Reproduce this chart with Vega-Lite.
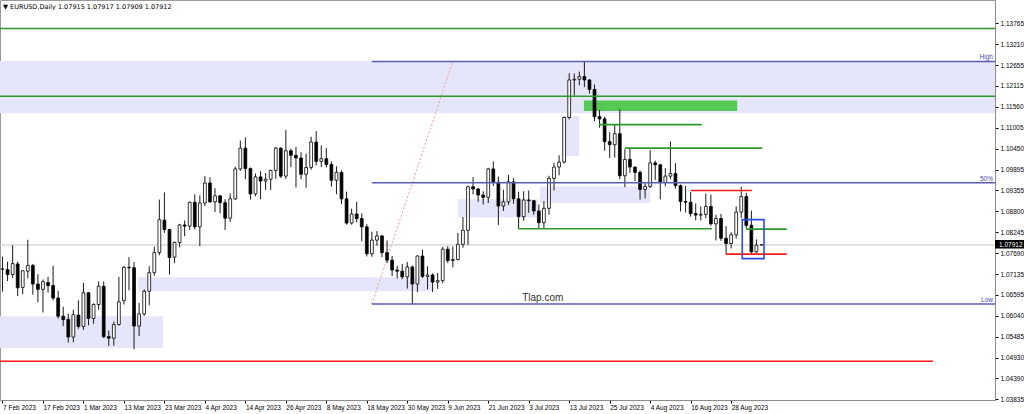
{
  "$schema": "https://vega.github.io/schema/vega-lite/v6.json",
  "width": 995,
  "height": 400,
  "autosize": {"type": "none"},
  "padding": {"left": 0, "top": 0, "right": 29, "bottom": 14},
  "background": "#ffffff",
  "config": {
    "view": {"stroke": "#9a9a9a", "strokeWidth": 1},
    "font": "Liberation Sans",
    "scale": {"continuousPadding": 0},
    "axisX": {"orient": "bottom", "labelAlign": "left", "labelBaseline": "top", "labelPadding": 1, "labelFontSize": 6.5, "labelColor": "#000000", "labelFlush": false, "labelOverlap": false, "tickSize": 3, "tickColor": "#000000", "domainColor": "#8c8c8c", "grid": false, "title": null},
    "axisY": {"orient": "right", "labelFontSize": 6.5, "labelColor": "#000000", "labelPadding": 2, "labelOverlap": false, "labelFlush": false, "tickSize": 3, "tickColor": "#000000", "domainColor": "#8c8c8c", "grid": false, "title": null}
  },
  "datasets": {
    "candles": [
      {"i":0,"o":1.0727,"h":1.0760,"l":1.0668,"c":1.0728},
      {"i":1,"o":1.0726,"h":1.0747,"l":1.0696,"c":1.0713},
      {"i":2,"o":1.0713,"h":1.0790,"l":1.0704,"c":1.0742},
      {"i":3,"o":1.0741,"h":1.0747,"l":1.0656,"c":1.0678},
      {"i":4,"o":1.0679,"h":1.0724,"l":1.0661,"c":1.0723},
      {"i":5,"o":1.0722,"h":1.0805,"l":1.0703,"c":1.0737},
      {"i":6,"o":1.0737,"h":1.0741,"l":1.0660,"c":1.0688},
      {"i":7,"o":1.0688,"h":1.0714,"l":1.0640,"c":1.0674},
      {"i":8,"o":1.0674,"h":1.0700,"l":1.0613,"c":1.0694},
      {"i":9,"o":1.0692,"h":1.0707,"l":1.0665,"c":1.0684},
      {"i":10,"o":1.0684,"h":1.0736,"l":1.0645,"c":1.0651},
      {"i":11,"o":1.0651,"h":1.0670,"l":1.0597,"c":1.0603},
      {"i":12,"o":1.0603,"h":1.0628,"l":1.0577,"c":1.0594},
      {"i":13,"o":1.0595,"h":1.0610,"l":1.0533,"c":1.0548},
      {"i":14,"o":1.0548,"h":1.0620,"l":1.0534,"c":1.0607},
      {"i":15,"o":1.0606,"h":1.0645,"l":1.0570,"c":1.0576},
      {"i":16,"o":1.0576,"h":1.0691,"l":1.0567,"c":1.0665},
      {"i":17,"o":1.0665,"h":1.0667,"l":1.0579,"c":1.0597},
      {"i":18,"o":1.0597,"h":1.0637,"l":1.0583,"c":1.0634},
      {"i":19,"o":1.0634,"h":1.0695,"l":1.0620,"c":1.0682},
      {"i":20,"o":1.0682,"h":1.0695,"l":1.0545,"c":1.0549},
      {"i":21,"o":1.0549,"h":1.0565,"l":1.0524,"c":1.0545},
      {"i":22,"o":1.0545,"h":1.0589,"l":1.0525,"c":1.0581},
      {"i":23,"o":1.0581,"h":1.0707,"l":1.0578,"c":1.0641},
      {"i":24,"o":1.0644,"h":1.0736,"l":1.0634,"c":1.0732},
      {"i":25,"o":1.0732,"h":1.0759,"l":1.0671,"c":1.0731},
      {"i":26,"o":1.0731,"h":1.0746,"l":1.0516,"c":1.0577},
      {"i":27,"o":1.0577,"h":1.0638,"l":1.0551,"c":1.0609},
      {"i":28,"o":1.0609,"h":1.0674,"l":1.0604,"c":1.0669},
      {"i":29,"o":1.0669,"h":1.0735,"l":1.0632,"c":1.0718},
      {"i":30,"o":1.0718,"h":1.0787,"l":1.0710,"c":1.0771},
      {"i":31,"o":1.0771,"h":1.0911,"l":1.0764,"c":1.0858},
      {"i":32,"o":1.0857,"h":1.0930,"l":1.0823,"c":1.0832},
      {"i":33,"o":1.0832,"h":1.0834,"l":1.0713,"c":1.0758},
      {"i":34,"o":1.0759,"h":1.0800,"l":1.0744,"c":1.0798},
      {"i":35,"o":1.0798,"h":1.0847,"l":1.0785,"c":1.0844},
      {"i":36,"o":1.0844,"h":1.0856,"l":1.0814,"c":1.0841},
      {"i":37,"o":1.0841,"h":1.0906,"l":1.0831,"c":1.0904},
      {"i":38,"o":1.0904,"h":1.0925,"l":1.0832,"c":1.0839},
      {"i":39,"o":1.0839,"h":1.0922,"l":1.0788,"c":1.0902},
      {"i":40,"o":1.0902,"h":1.0973,"l":1.0894,"c":1.0955},
      {"i":41,"o":1.0955,"h":1.0970,"l":1.0902,"c":1.0905},
      {"i":42,"o":1.0905,"h":1.0941,"l":1.0878,"c":1.0921},
      {"i":43,"o":1.0921,"h":1.0922,"l":1.0875,"c":1.0903},
      {"i":44,"o":1.0903,"h":1.0912,"l":1.0831,"c":1.0862},
      {"i":45,"o":1.0862,"h":1.0927,"l":1.0852,"c":1.0913},
      {"i":46,"o":1.0913,"h":1.0998,"l":1.0910,"c":1.0992},
      {"i":47,"o":1.0992,"h":1.1067,"l":1.0987,"c":1.1047},
      {"i":48,"o":1.1047,"h":1.1075,"l":1.0965,"c":1.0993},
      {"i":49,"o":1.0993,"h":1.0996,"l":1.0911,"c":1.0926},
      {"i":50,"o":1.0926,"h":1.0980,"l":1.0920,"c":1.0971},
      {"i":51,"o":1.0971,"h":1.0986,"l":1.0912,"c":1.0960},
      {"i":52,"o":1.0960,"h":1.0981,"l":1.0937,"c":1.0965},
      {"i":53,"o":1.0965,"h":1.0990,"l":1.0936,"c":1.0988},
      {"i":54,"o":1.0988,"h":1.1050,"l":1.0966,"c":1.1047},
      {"i":55,"o":1.1047,"h":1.1049,"l":1.0968,"c":1.0973},
      {"i":56,"o":1.0973,"h":1.1095,"l":1.0965,"c":1.1040},
      {"i":57,"o":1.1040,"h":1.1045,"l":1.0997,"c":1.1028},
      {"i":58,"o":1.1028,"h":1.1050,"l":1.0943,"c":1.1021},
      {"i":59,"o":1.1021,"h":1.1036,"l":1.0965,"c":1.0978},
      {"i":60,"o":1.0978,"h":1.1032,"l":1.0942,"c":1.0996},
      {"i":61,"o":1.0996,"h":1.1077,"l":1.0990,"c":1.1063},
      {"i":62,"o":1.1063,"h":1.1092,"l":1.1001,"c":1.1012},
      {"i":63,"o":1.1012,"h":1.1054,"l":1.0997,"c":1.1019},
      {"i":64,"o":1.1019,"h":1.1047,"l":1.0996,"c":1.1004},
      {"i":65,"o":1.1004,"h":1.1012,"l":1.0945,"c":1.0962},
      {"i":66,"o":1.0962,"h":1.0999,"l":1.0925,"c":1.0983},
      {"i":67,"o":1.0983,"h":1.0988,"l":1.0899,"c":1.0913},
      {"i":68,"o":1.0913,"h":1.0932,"l":1.0845,"c":1.0849},
      {"i":69,"o":1.0849,"h":1.0887,"l":1.0845,"c":1.0873},
      {"i":70,"o":1.0873,"h":1.0905,"l":1.0851,"c":1.0861},
      {"i":71,"o":1.0861,"h":1.0875,"l":1.0801,"c":1.0839},
      {"i":72,"o":1.0839,"h":1.0846,"l":1.0761,"c":1.0768},
      {"i":73,"o":1.0768,"h":1.0826,"l":1.0760,"c":1.0804},
      {"i":74,"o":1.0804,"h":1.0828,"l":1.0789,"c":1.0815},
      {"i":75,"o":1.0815,"h":1.0818,"l":1.0759,"c":1.0771},
      {"i":76,"o":1.0771,"h":1.0803,"l":1.0743,"c":1.0751},
      {"i":77,"o":1.0751,"h":1.0762,"l":1.0709,"c":1.0725},
      {"i":78,"o":1.0725,"h":1.0736,"l":1.0703,"c":1.0722},
      {"i":79,"o":1.0722,"h":1.0741,"l":1.0701,"c":1.0707},
      {"i":80,"o":1.0707,"h":1.0746,"l":1.0676,"c":1.0733},
      {"i":81,"o":1.0733,"h":1.0737,"l":1.0635,"c":1.0688},
      {"i":82,"o":1.0688,"h":1.0764,"l":1.0667,"c":1.0762},
      {"i":83,"o":1.0762,"h":1.0779,"l":1.0704,"c":1.0708},
      {"i":84,"o":1.0708,"h":1.0735,"l":1.0674,"c":1.0712},
      {"i":85,"o":1.0712,"h":1.0716,"l":1.0667,"c":1.0693},
      {"i":86,"o":1.0693,"h":1.0717,"l":1.0675,"c":1.0697},
      {"i":87,"o":1.0697,"h":1.0786,"l":1.0690,"c":1.0780},
      {"i":88,"o":1.0780,"h":1.0788,"l":1.0743,"c":1.0750},
      {"i":89,"o":1.0750,"h":1.0787,"l":1.0732,"c":1.0753},
      {"i":90,"o":1.0753,"h":1.0823,"l":1.0750,"c":1.0793},
      {"i":91,"o":1.0793,"h":1.0865,"l":1.0784,"c":1.0830},
      {"i":92,"o":1.0830,"h":1.0948,"l":1.0791,"c":1.0945},
      {"i":93,"o":1.0945,"h":1.0970,"l":1.0925,"c":1.0939},
      {"i":94,"o":1.0939,"h":1.0942,"l":1.0905,"c":1.0923},
      {"i":95,"o":1.0923,"h":1.0933,"l":1.0898,"c":1.0917},
      {"i":96,"o":1.0917,"h":1.0995,"l":1.0902,"c":1.0992},
      {"i":97,"o":1.0992,"h":1.1012,"l":1.0947,"c":1.0957},
      {"i":98,"o":1.0957,"h":1.0972,"l":1.0844,"c":1.0894},
      {"i":99,"o":1.0894,"h":1.0937,"l":1.0881,"c":1.0905},
      {"i":100,"o":1.0905,"h":1.0976,"l":1.0897,"c":1.0958},
      {"i":101,"o":1.0958,"h":1.0968,"l":1.0900,"c":1.0913},
      {"i":102,"o":1.0913,"h":1.0932,"l":1.0835,"c":1.0866},
      {"i":103,"o":1.0866,"h":1.0933,"l":1.0855,"c":1.0910},
      {"i":104,"o":1.0910,"h":1.0935,"l":1.0876,"c":1.0908},
      {"i":105,"o":1.0908,"h":1.0910,"l":1.0871,"c":1.0881},
      {"i":106,"o":1.0881,"h":1.0898,"l":1.0833,"c":1.0850},
      {"i":107,"o":1.0850,"h":1.0907,"l":1.0834,"c":1.0888},
      {"i":108,"o":1.0888,"h":1.0974,"l":1.0871,"c":1.0967},
      {"i":109,"o":1.0967,"h":1.1008,"l":1.0935,"c":1.0997},
      {"i":110,"o":1.0997,"h":1.1028,"l":1.0975,"c":1.1010},
      {"i":111,"o":1.1010,"h":1.1130,"l":1.1006,"c":1.1128},
      {"i":112,"o":1.1128,"h":1.1245,"l":1.1123,"c":1.1227},
      {"i":113,"o":1.1227,"h":1.1244,"l":1.1186,"c":1.1229},
      {"i":114,"o":1.1229,"h":1.1249,"l":1.1213,"c":1.1236},
      {"i":115,"o":1.1236,"h":1.1276,"l":1.1208,"c":1.1227},
      {"i":116,"o":1.1227,"h":1.1229,"l":1.1191,"c":1.1202},
      {"i":117,"o":1.1202,"h":1.1215,"l":1.1118,"c":1.1130},
      {"i":118,"o":1.1130,"h":1.1148,"l":1.1101,"c":1.1124},
      {"i":119,"o":1.1124,"h":1.1130,"l":1.1040,"c":1.1064},
      {"i":120,"o":1.1064,"h":1.1089,"l":1.1021,"c":1.1056},
      {"i":121,"o":1.1056,"h":1.1110,"l":1.1022,"c":1.1085},
      {"i":122,"o":1.1085,"h":1.1149,"l":1.0965,"c":1.0974},
      {"i":123,"o":1.0974,"h":1.1044,"l":1.0944,"c":1.1017},
      {"i":124,"o":1.1017,"h":1.1046,"l":1.0982,"c":1.0997},
      {"i":125,"o":1.0997,"h":1.0998,"l":1.0960,"c":1.0983},
      {"i":126,"o":1.0983,"h":1.0988,"l":1.0911,"c":1.0938},
      {"i":127,"o":1.0938,"h":1.0954,"l":1.0914,"c":1.0946},
      {"i":128,"o":1.0946,"h":1.1042,"l":1.0942,"c":1.1008},
      {"i":129,"o":1.1008,"h":1.1014,"l":1.0963,"c":1.1003},
      {"i":130,"o":1.1003,"h":1.1005,"l":1.0912,"c":1.0956},
      {"i":131,"o":1.0956,"h":1.0994,"l":1.0946,"c":1.0973},
      {"i":132,"o":1.0973,"h":1.1065,"l":1.0965,"c":1.0980},
      {"i":133,"o":1.0980,"h":1.1007,"l":1.0940,"c":1.0948},
      {"i":134,"o":1.0948,"h":1.0951,"l":1.0880,"c":1.0906},
      {"i":135,"o":1.0906,"h":1.0947,"l":1.0877,"c":1.0904},
      {"i":136,"o":1.0904,"h":1.0931,"l":1.0866,"c":1.0874},
      {"i":137,"o":1.0874,"h":1.0901,"l":1.0856,"c":1.0870},
      {"i":138,"o":1.0870,"h":1.0893,"l":1.0856,"c":1.0872},
      {"i":139,"o":1.0872,"h":1.0927,"l":1.0862,"c":1.0893},
      {"i":140,"o":1.0893,"h":1.0924,"l":1.0842,"c":1.0847},
      {"i":141,"o":1.0847,"h":1.0871,"l":1.0803,"c":1.0861},
      {"i":142,"o":1.0861,"h":1.0873,"l":1.0802,"c":1.0809},
      {"i":143,"o":1.0809,"h":1.0841,"l":1.0766,"c":1.0795},
      {"i":144,"o":1.0795,"h":1.0825,"l":1.0782,"c":1.0818},
      {"i":145,"o":1.0818,"h":1.0893,"l":1.0808,"c":1.0878},
      {"i":146,"o":1.0878,"h":1.0945,"l":1.0862,"c":1.0919},
      {"i":147,"o":1.0919,"h":1.0929,"l":1.0835,"c":1.0843},
      {"i":148,"o":1.0843,"h":1.0882,"l":1.0769,"c":1.0773},
      {"i":149,"o":1.0773,"h":1.0806,"l":1.0770,"c":1.0791},
      {"i":150,"o":1.07915,"h":1.07917,"l":1.07909,"c":1.07912}
    ],
    "zones": [
      {"i1":-0.494,"i2":196.15,"p1":1.1277,"p2":1.1139,"kind":"lav"},
      {"i1":-0.494,"i2":31.7,"p1":1.0603,"p2":1.0519,"kind":"lav"},
      {"i1":26.8,"i2":84.9,"p1":1.0706,"p2":1.0669,"kind":"lav"},
      {"i1":90.0,"i2":105.8,"p1":1.0912,"p2":1.0864,"kind":"lav"},
      {"i1":106.2,"i2":128.0,"p1":1.0946,"p2":1.0902,"kind":"lav"},
      {"i1":110.5,"i2":114.0,"p1":1.1131,"p2":1.1026,"kind":"lav"},
      {"i1":114.9,"i2":145.2,"p1":1.1173,"p2":1.1145,"kind":"lime"}
    ],
    "diag": [
      {"i":73.0,"p":1.0635},
      {"i":89.0,"p":1.1276}
    ],
    "price": [
      {"i1":-0.494,"i2":196.15,"p":1.07912}
    ],
    "levels": [
      {"i1":-0.494,"i2":196.15,"p":1.1363,"kind":"green"},
      {"i1":-0.494,"i2":196.15,"p":1.1184,"kind":"green"},
      {"i1":117.9,"i2":138.2,"p":1.1109,"kind":"green"},
      {"i1":123.0,"i2":150.1,"p":1.1047,"kind":"green"},
      {"i1":101.9,"i2":140.2,"p":1.0834,"kind":"green"},
      {"i1":146.9,"i2":155.0,"p":1.0833,"kind":"green"},
      {"i1":136.0,"i2":148.1,"p":1.0935,"kind":"red"},
      {"i1":143.0,"i2":155.0,"p":1.0767,"kind":"red"},
      {"i1":-0.494,"i2":183.9,"p":1.0484,"kind":"red"},
      {"i1":73.0,"i2":196.15,"p":1.1276,"kind":"fib"},
      {"i1":73.0,"i2":196.15,"p":1.09555,"kind":"fib"},
      {"i1":73.0,"i2":196.15,"p":1.0635,"kind":"fib"}
    ],
    "boxes": [
      {"i1":146.2,"i2":150.5,"p1":1.0858,"p2":1.0755}
    ],
    "fibtext": [
      {"i":195.75,"p":1.1276,"t":"High"},
      {"i":195.75,"p":1.09555,"t":"50%"},
      {"i":195.75,"p":1.0635,"t":"Low"}
    ],
    "notes": [
      {"i":102.7,"p":1.0651,"t":"Tlap.com"}
    ],
    "header": [
      {"i":0.1,"p":1.1420,"t":"▼ EURUSD,Daily  1.07915 1.07917 1.07909 1.07912"}
    ],
    "tag": [
      {"i1":196.15,"i2":201.9,"p1":1.08043,"p2":1.07818,"p":1.07912,"t":"1.07912"}
    ]
  },
  "layer": [
    {
      "data": {"name": "zones"},
      "mark": {"type": "rect"},
      "encoding": {
        "x": {"field": "i1", "type": "quantitative", "title": null,
          "scale": {"domain": [-0.494, 196.15], "nice": false, "zero": false, "padding": 0},
          "axis": {"values": [0,8,16,24,32,40,48,56,64,72,80,88,96,104,112,120,128,136,144], "labelOverlap": false, "tickCount": 40,
            "labelExpr": "['7 Feb 2023','17 Feb 2023','1 Mar 2023','13 Mar 2023','23 Mar 2023','4 Apr 2023','14 Apr 2023','26 Apr 2023','8 May 2023','18 May 2023','30 May 2023','9 Jun 2023','21 Jun 2023','3 Jul 2023','13 Jul 2023','25 Jul 2023','4 Aug 2023','16 Aug 2023','28 Aug 2023'][round(datum.value/8)]"}},
        "x2": {"field": "i2"},
        "y": {"field": "p1", "type": "quantitative", "title": null,
          "scale": {"domain": [1.03817, 1.14382], "nice": false, "zero": false, "padding": 0},
          "axis": {"values": [1.13765,1.13210,1.12655,1.12115,1.11560,1.11005,1.10450,1.09895,1.09355,1.08800,1.08245,1.07690,1.07135,1.06595,1.06040,1.05485,1.04930,1.04390,1.03835], "format": ".5f", "labelOverlap": false, "tickCount": 40}},
        "y2": {"field": "p2"},
        "fill": {"field": "kind", "type": "nominal", "scale": {"domain": ["lav", "lime"], "range": ["#e6e6fa", "#55c855"]}, "legend": null}
      }
    },
    {
      "data": {"name": "price"},
      "mark": {"type": "rule", "stroke": "#c4c4c4", "strokeWidth": 1},
      "encoding": {
        "x": {"field": "i1", "type": "quantitative", "title": null, "scale": {"domain": [-0.494, 196.15], "nice": false, "zero": false, "padding": 0}},
        "x2": {"field": "i2"},
        "y": {"field": "p", "type": "quantitative", "title": null, "scale": {"domain": [1.03817, 1.14382], "nice": false, "zero": false, "padding": 0}}
      }
    },
    {
      "data": {"name": "diag"},
      "mark": {"type": "line", "stroke": "#f09a9a", "strokeWidth": 1, "strokeDash": [2, 2]},
      "encoding": {
        "x": {"field": "i", "type": "quantitative", "title": null, "scale": {"domain": [-0.494, 196.15], "nice": false, "zero": false, "padding": 0}},
        "y": {"field": "p", "type": "quantitative", "title": null, "scale": {"domain": [1.03817, 1.14382], "nice": false, "zero": false, "padding": 0}}
      }
    },
    {
      "data": {"name": "candles"},
      "mark": {"type": "rule", "stroke": "#1a1a1a", "strokeWidth": 1},
      "encoding": {
        "x": {"field": "i", "type": "quantitative", "title": null, "scale": {"domain": [-0.494, 196.15], "nice": false, "zero": false, "padding": 0}},
        "y": {"field": "l", "type": "quantitative", "title": null, "scale": {"domain": [1.03817, 1.14382], "nice": false, "zero": false, "padding": 0}},
        "y2": {"field": "h"}
      }
    },
    {
      "data": {"name": "candles"},
      "mark": {"type": "bar", "width": 2.8, "stroke": "#000000", "strokeWidth": 0.8},
      "encoding": {
        "x": {"field": "i", "type": "quantitative", "title": null, "scale": {"domain": [-0.494, 196.15], "nice": false, "zero": false, "padding": 0}},
        "y": {"field": "o", "type": "quantitative", "title": null, "scale": {"domain": [1.03817, 1.14382], "nice": false, "zero": false, "padding": 0}},
        "y2": {"field": "c"},
        "fill": {"condition": {"test": "datum.c >= datum.o", "value": "#ffffff"}, "value": "#000000"}
      }
    },
    {
      "data": {"name": "levels"},
      "mark": {"type": "rule"},
      "encoding": {
        "x": {"field": "i1", "type": "quantitative", "title": null, "scale": {"domain": [-0.494, 196.15], "nice": false, "zero": false, "padding": 0}},
        "x2": {"field": "i2"},
        "y": {"field": "p", "type": "quantitative", "title": null, "scale": {"domain": [1.03817, 1.14382], "nice": false, "zero": false, "padding": 0}},
        "stroke": {"field": "kind", "type": "nominal", "scale": {"domain": ["green", "red", "fib"], "range": ["#2a9a2a", "#ff1a1a", "#5c5cb8"]}, "legend": null},
        "strokeWidth": {"field": "kind", "type": "ordinal", "scale": {"domain": ["green", "red", "fib"], "range": [1.6, 1.5, 1]}, "legend": null}
      }
    },
    {
      "data": {"name": "boxes"},
      "mark": {"type": "rect", "fill": null, "fillOpacity": 0, "stroke": "#2a4cf0", "strokeWidth": 1.6},
      "encoding": {
        "x": {"field": "i1", "type": "quantitative", "title": null, "scale": {"domain": [-0.494, 196.15], "nice": false, "zero": false, "padding": 0}},
        "x2": {"field": "i2"},
        "y": {"field": "p1", "type": "quantitative", "title": null, "scale": {"domain": [1.03817, 1.14382], "nice": false, "zero": false, "padding": 0}},
        "y2": {"field": "p2"}
      }
    },
    {
      "data": {"name": "fibtext"},
      "mark": {"type": "text", "align": "right", "baseline": "bottom", "dy": -1, "fontSize": 6.5, "fill": "#4a4ab0"},
      "encoding": {
        "x": {"field": "i", "type": "quantitative", "title": null, "scale": {"domain": [-0.494, 196.15], "nice": false, "zero": false, "padding": 0}},
        "y": {"field": "p", "type": "quantitative", "title": null, "scale": {"domain": [1.03817, 1.14382], "nice": false, "zero": false, "padding": 0}},
        "text": {"field": "t"}
      }
    },
    {
      "data": {"name": "notes"},
      "mark": {"type": "text", "align": "left", "baseline": "middle", "fontSize": 10, "fill": "#333333"},
      "encoding": {
        "x": {"field": "i", "type": "quantitative", "title": null, "scale": {"domain": [-0.494, 196.15], "nice": false, "zero": false, "padding": 0}},
        "y": {"field": "p", "type": "quantitative", "title": null, "scale": {"domain": [1.03817, 1.14382], "nice": false, "zero": false, "padding": 0}},
        "text": {"field": "t"}
      }
    },
    {
      "data": {"name": "header"},
      "mark": {"type": "text", "align": "left", "baseline": "middle", "fontSize": 6.5, "fill": "#000000", "font": "DejaVu Sans"},
      "encoding": {
        "x": {"field": "i", "type": "quantitative", "title": null, "scale": {"domain": [-0.494, 196.15], "nice": false, "zero": false, "padding": 0}},
        "y": {"field": "p", "type": "quantitative", "title": null, "scale": {"domain": [1.03817, 1.14382], "nice": false, "zero": false, "padding": 0}},
        "text": {"field": "t"}
      }
    },
    {
      "data": {"name": "tag"},
      "mark": {"type": "rect", "fill": "#000000"},
      "encoding": {
        "x": {"field": "i1", "type": "quantitative", "title": null, "scale": {"domain": [-0.494, 196.15], "nice": false, "zero": false, "padding": 0}},
        "x2": {"field": "i2"},
        "y": {"field": "p1", "type": "quantitative", "title": null, "scale": {"domain": [1.03817, 1.14382], "nice": false, "zero": false, "padding": 0}},
        "y2": {"field": "p2"}
      }
    },
    {
      "data": {"name": "tag"},
      "mark": {"type": "text", "align": "left", "baseline": "middle", "dx": 4, "fontSize": 6.5, "fill": "#ffffff"},
      "encoding": {
        "x": {"field": "i1", "type": "quantitative", "title": null, "scale": {"domain": [-0.494, 196.15], "nice": false, "zero": false, "padding": 0}},
        "y": {"field": "p", "type": "quantitative", "title": null, "scale": {"domain": [1.03817, 1.14382], "nice": false, "zero": false, "padding": 0}},
        "text": {"field": "t"}
      }
    }
  ]
}
